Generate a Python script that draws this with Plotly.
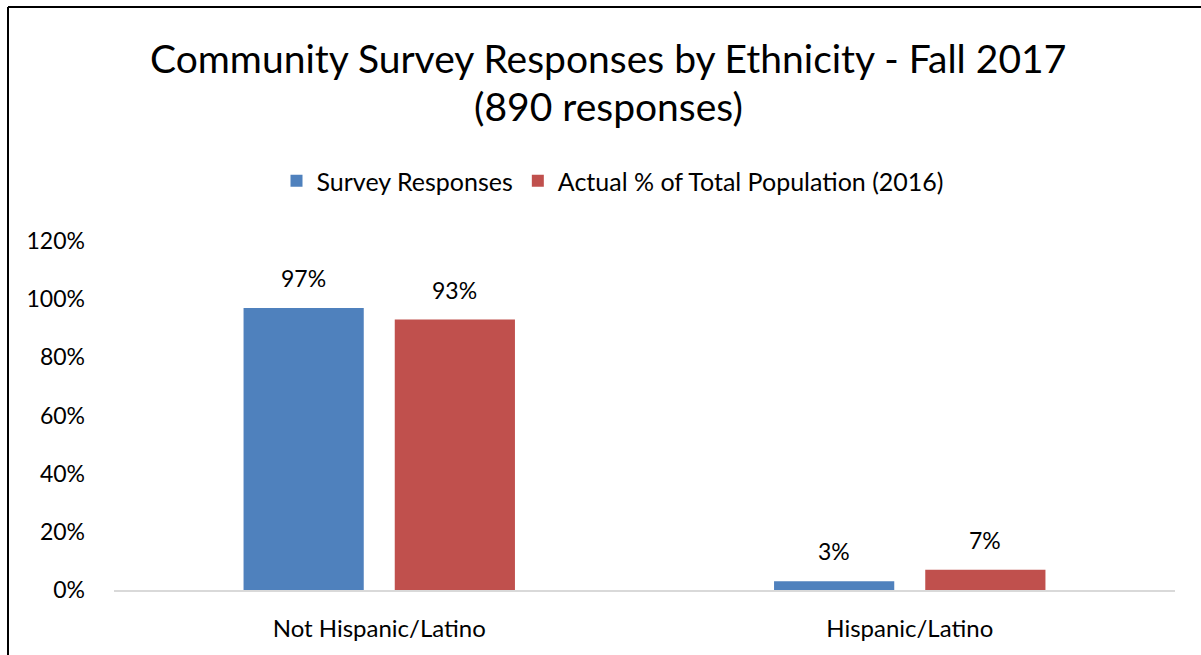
import plotly.graph_objects as go

categories = ["Not Hispanic/Latino", "Hispanic/Latino"]
survey_responses = [97, 3]
actual_population = [93, 7]
series_names = ["Survey Responses", "Actual % of Total Population (2016)"]
title_lines = ["Community Survey Responses by Ethnicity - Fall 2017", "(890 responses)"]
y_ticks = [0, 20, 40, 60, 80, 100, 120]
y_tick_labels = [f"{v}%" for v in y_ticks]

FONT = "Lato, Open Sans, sans-serif"
BLUE, RED = "#4F81BD", "#C0504D"
W, H = 1201, 655
M_L, M_R, M_T, M_B = 114, 26, 241, 65
plot_w = W - M_L - M_R
plot_h = H - M_T - M_B
BARGAP, GROUPGAP = 0.43, 0.205


def px_to_paper_x(px):
    return (px - M_L) / plot_w


def px_to_paper_y(py):
    return (H - M_B - py) / plot_h


fig = go.Figure()
series = [(series_names[0], survey_responses, BLUE),
          (series_names[1], actual_population, RED)]
for name, vals, color in series:
    fig.add_trace(go.Bar(x=categories, y=vals, name=name,
                         marker=dict(color=color, line=dict(width=0))))

# Value labels above each bar, shifted to the centre of its slot in the group
slot_px = plot_w / len(categories) * (1 - BARGAP) / 2
for i, (name, vals, color) in enumerate(series):
    shift = (i - 0.5) * slot_px
    for cat, v in zip(categories, vals):
        fig.add_annotation(
            x=cat, y=v, xref="x", yref="y", text=f"{v}%",
            xshift=shift, yshift=14, yanchor="bottom", xanchor="center",
            showarrow=False, font=dict(size=23, color="#000000", family=FONT),
        )

# Two-line heading placed as annotations for exact spacing
for line, py in zip(title_lines, [58, 106]):
    fig.add_annotation(
        text=line, xref="paper", yref="paper",
        x=px_to_paper_x(608), y=px_to_paper_y(py),
        xanchor="center", yanchor="middle", showarrow=False,
        font=dict(size=39, color="#000000", family=FONT),
    )

# Chart-area border (top and left edges)
border = dict(color="#000000", width=2)
fig.add_shape(type="line", xref="paper", yref="paper",
              x0=px_to_paper_x(8), x1=px_to_paper_x(W + 10),
              y0=px_to_paper_y(7), y1=px_to_paper_y(7), line=border)
fig.add_shape(type="line", xref="paper", yref="paper",
              x0=px_to_paper_x(8), x1=px_to_paper_x(8),
              y0=px_to_paper_y(7), y1=px_to_paper_y(H + 10), line=border)

fig.update_layout(
    width=W, height=H,
    margin=dict(l=M_L, r=M_R, t=M_T, b=M_B),
    paper_bgcolor="white", plot_bgcolor="white",
    barmode="group", bargap=BARGAP, bargroupgap=GROUPGAP,
    font=dict(family=FONT, size=23, color="#000000"),
    showlegend=True,
    legend=dict(
        orientation="h", xanchor="center", yanchor="middle",
        x=px_to_paper_x(613), y=px_to_paper_y(181),
        font=dict(size=25, family=FONT, color="#000000"),
        traceorder="normal", itemwidth=30,
    ),
    xaxis=dict(
        showline=True, linecolor="#D9D9D9", linewidth=2,
        showgrid=False, ticks="", tickfont=dict(size=24),
        ticklabelstandoff=16,
    ),
    yaxis=dict(
        range=[0, 120], tickvals=y_ticks, ticktext=y_tick_labels,
        showgrid=False, zeroline=False, showline=False, ticks="",
        tickfont=dict(size=23), ticklabelstandoff=28,
    ),
)

fig.write_html("out.html")
